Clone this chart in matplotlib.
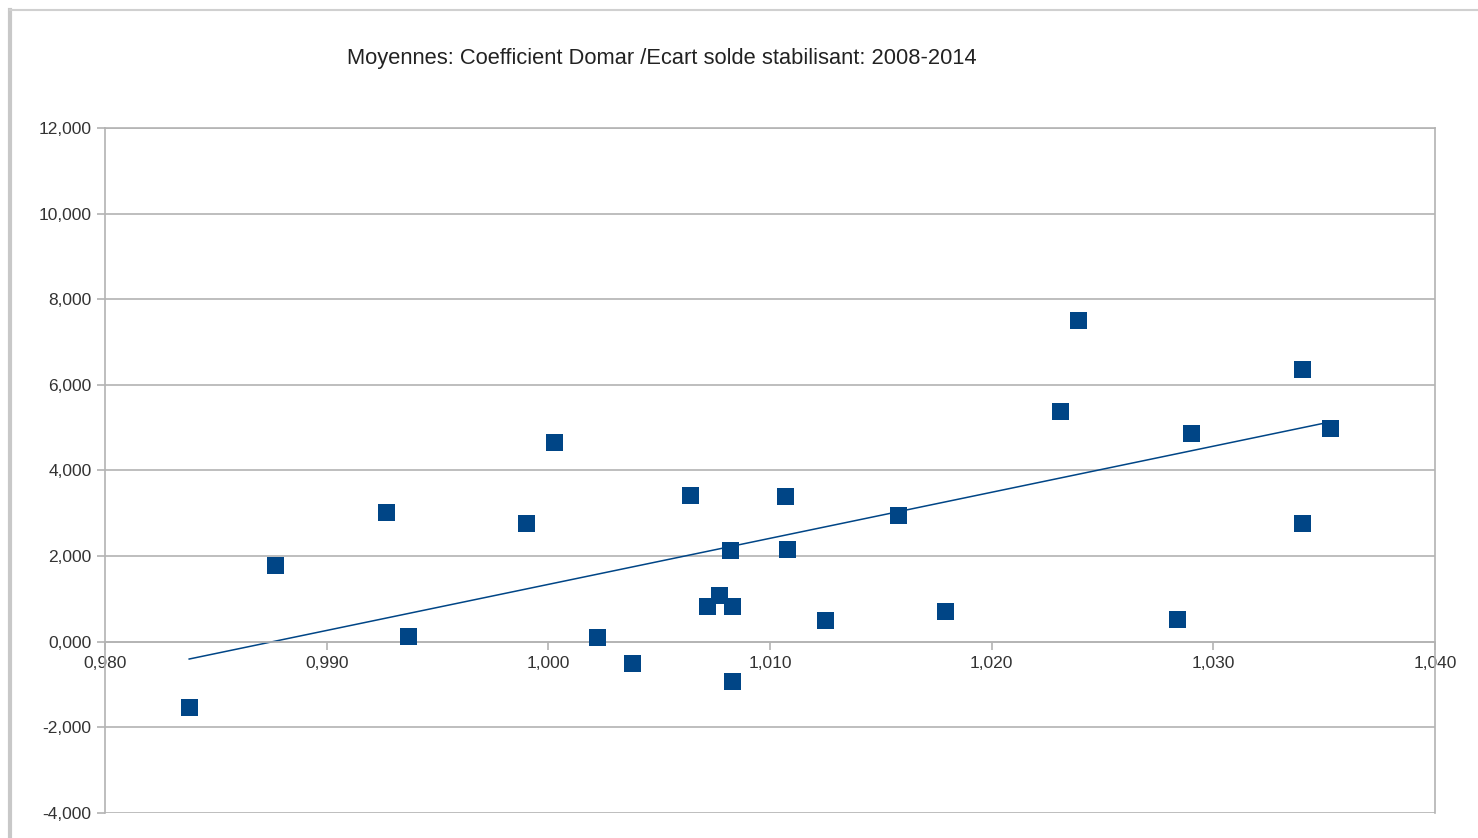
import numpy as np
import matplotlib.pyplot as plt
from matplotlib.lines import Line2D
from matplotlib.ticker import FuncFormatter

# Coefficient Domar (x) vs Ecart solde stabilisant (y), moyennes 2008-2014
domar = [0.9838, 0.9877, 0.9927, 0.9937, 0.9990, 1.0003, 1.0022, 1.0038,
         1.0064, 1.0072, 1.0077, 1.0082, 1.0083, 1.0083, 1.0107, 1.0108,
         1.0125, 1.0158, 1.0179, 1.0231, 1.0239, 1.0284, 1.0290, 1.0340,
         1.0340, 1.0353]
ecart = [-1.54, 1.78, 3.01, 0.12, 2.76, 4.65, 0.09, -0.51,
         3.41, 0.82, 1.07, 2.13, 0.82, -0.93, 3.39, 2.15,
         0.49, 2.94, 0.70, 5.37, 7.50, 0.51, 4.86, 6.36,
         2.76, 4.98]

# trendline: y = slope * x + intercept
trend_slope = 107.6
trend_intercept = -106.26

title = "Moyennes: Coefficient Domar /Ecart solde stabilisant: 2008-2014"

plt.rcParams['font.family'] = ['Liberation Sans', 'DejaVu Sans']

fig = plt.figure(figsize=(14.78, 8.38), dpi=100)
ax = fig.add_axes([0.071, 0.0298, 0.900, 0.8175])

blue = '#004586'
grey = '#b3b3b3'

x = np.array(domar)
y = np.array(ecart)

xt = np.array([x.min(), x.max()])
ax.plot(xt, trend_slope * xt + trend_intercept, color=blue, lw=1.1, zorder=2)

ax.scatter(x, y, marker='s', s=150, color=blue, edgecolors='none', zorder=3)

ax.set_xlim(0.980, 1.040)
ax.set_ylim(-4, 12)
ax.set_xticks(np.arange(0.980, 1.0401, 0.010))
ax.set_yticks(np.arange(-4, 12.01, 2))

fmt3 = FuncFormatter(lambda v, p: f"{v:.3f}".replace('.', ','))
ax.xaxis.set_major_formatter(fmt3)
ax.yaxis.set_major_formatter(fmt3)

ax.grid(axis='y', color=grey, lw=1.2)
ax.set_axisbelow(True)

for s in ['left', 'right', 'top']:
    ax.spines[s].set_color(grey)
    ax.spines[s].set_linewidth(1.2)
ax.spines['bottom'].set_position(('data', 0))
ax.spines['bottom'].set_color(grey)
ax.spines['bottom'].set_linewidth(1.2)

ax.tick_params(axis='both', colors=grey, labelcolor='#333333', labelsize=12.5,
               length=6, width=1.2)
ax.tick_params(axis='x', pad=4)

fig.text(0.448, 0.930, title, ha='center', va='center', fontsize=15.75,
         color='#222222')

# screenshot frame
fig.add_artist(Line2D([0.0068, 0.0068], [0, 0.988], transform=fig.transFigure,
                      color='#c8c8c8', lw=3))
fig.add_artist(Line2D([0.0068, 1.0], [0.988, 0.988], transform=fig.transFigure,
                      color='#d0d0d0', lw=1.5))

fig.savefig('out.png', dpi=100)
